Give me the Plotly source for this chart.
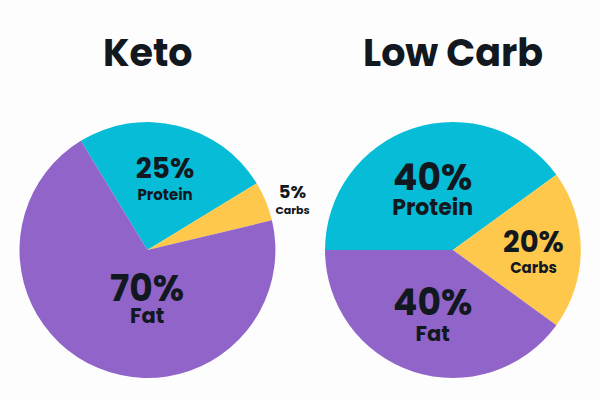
import plotly.graph_objects as go

diets = ["Keto", "Low Carb"]
macros = ["Protein", "Carbs", "Fat"]
keto_values = [25, 5, 70]
lowcarb_values = [40, 20, 40]

colors = ["#07BCD6", "#FEC84C", "#9064C8"]
ink = "#121820"
font_family = "Poppins, 'Open Sans', sans-serif"

def label(m, v, ps, ls):
    return (f"<span style='font-size:{ps}px'><b>{v}%</b></span><br>"
            f"<span style='font-size:{ls}px'><b>{m}</b></span>")

def texts(values, pct_sizes, lab_sizes, skip=()):
    return ["" if i in skip else label(m, v, ps, ls)
            for i, (m, v, ps, ls) in enumerate(zip(macros, values, pct_sizes, lab_sizes))]

keto_pct = [28, 18, 36]
keto_lab = [15, 11, 21]
lc_pct = [36, 29, 36]
lc_lab = [22, 15, 21]

fig = go.Figure()
fig.add_trace(go.Pie(
    labels=macros, values=keto_values, sort=False, direction="clockwise",
    rotation=-31.4,
    marker=dict(colors=colors, line=dict(width=0)),
    texttemplate=texts(keto_values, keto_pct, keto_lab, skip=(2,)),
    textposition=["inside", "outside", "inside"],
    insidetextorientation="horizontal",
    textfont=dict(color=ink, family=font_family, size=[17, 12, 19]),
    domain=dict(x=[0.0325, 0.459], y=[0.055, 0.695]),
    showlegend=False, hoverinfo="skip",
))
fig.add_trace(go.Pie(
    labels=macros, values=lowcarb_values, sort=False, direction="clockwise",
    rotation=270,
    marker=dict(colors=colors, line=dict(width=0)),
    texttemplate=texts(lowcarb_values, lc_pct, lc_lab),
    textposition="inside",
    insidetextorientation="horizontal",
    textfont=dict(color=ink, family=font_family, size=[19, 16, 20]),
    domain=dict(x=[0.5417, 0.968], y=[0.055, 0.695]),
    showlegend=False, hoverinfo="skip",
))

# Keto fat label sits centred below the pie centre
fig.add_annotation(
    text=label(macros[2], keto_values[2], keto_pct[2], keto_lab[2]),
    x=0.245, y=0.258, xref="paper", yref="paper", showarrow=False,
    xanchor="center", yanchor="middle",
    font=dict(size=17, color=ink, family=font_family),
)

for name, xc in zip(diets, [0.247, 0.755]):
    fig.add_annotation(
        text=f"<b>{name}</b>", x=xc, y=0.87, xref="paper", yref="paper",
        showarrow=False, xanchor="center", yanchor="middle",
        font=dict(size=38, color=ink, family=font_family, weight=700),
    )

fig.update_layout(
    width=600, height=400,
    margin=dict(l=0, r=0, t=0, b=0),
    paper_bgcolor="#FDFDFD", plot_bgcolor="#FDFDFD",
)
fig.write_html("out.html", config={"displayModeBar": False},
               post_script="document.body.style.margin='0';")
